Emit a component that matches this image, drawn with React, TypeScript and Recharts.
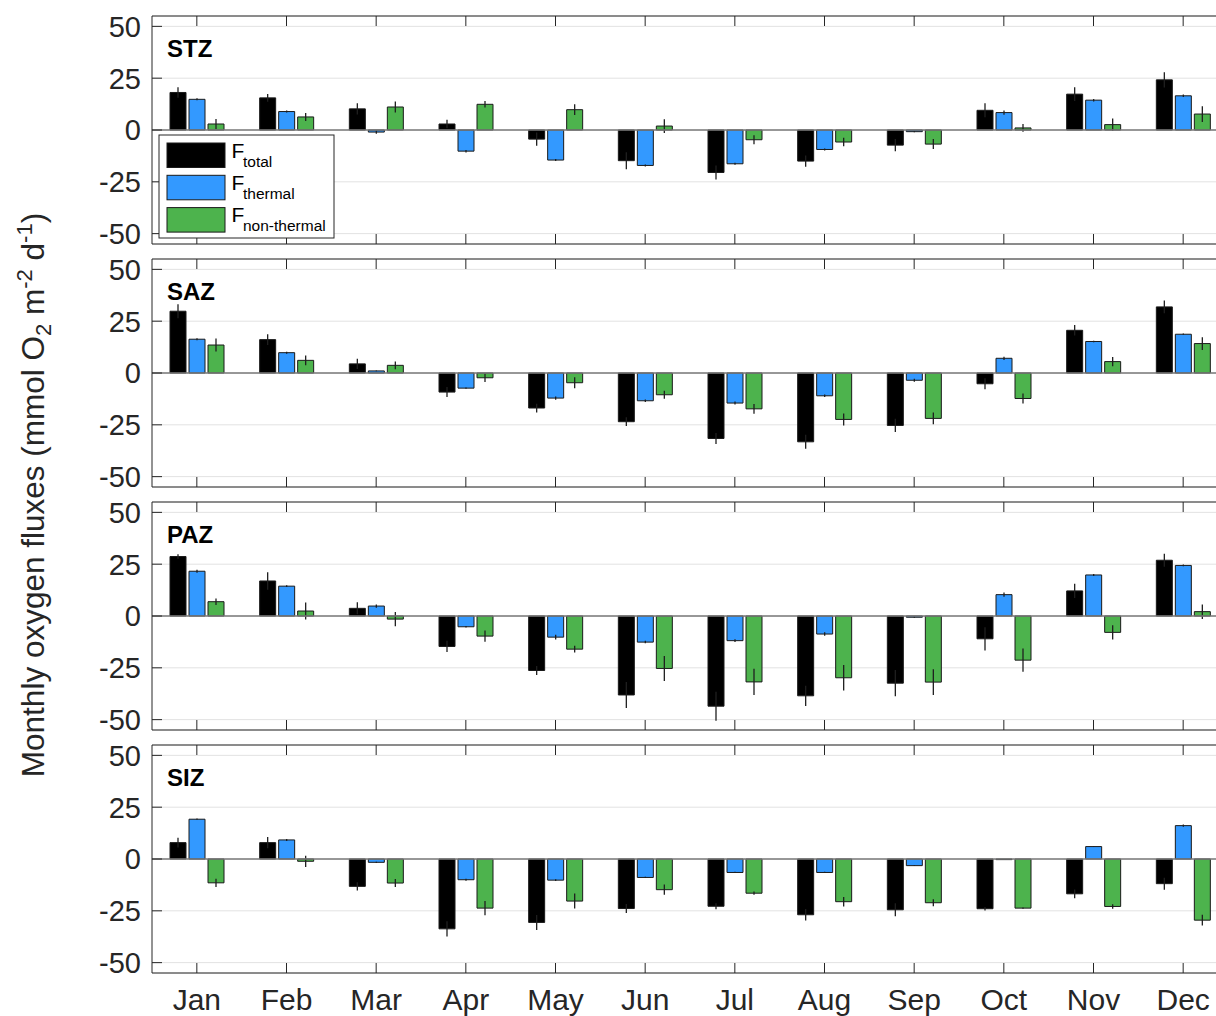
import React from 'react';
import { BarChart, Bar, XAxis, YAxis, CartesianGrid, ReferenceLine, ErrorBar } from 'recharts';

// ---------- data ----------
const months = ['Jan', 'Feb', 'Mar', 'Apr', 'May', 'Jun', 'Jul', 'Aug', 'Sep', 'Oct', 'Nov', 'Dec'];
const zoneNames = ['STZ', 'SAZ', 'PAZ', 'SIZ'];
const seriesKeys = ['total', 'thermal', 'nonThermal'];
const seriesLabels = ['total', 'thermal', 'non-thermal'];
const seriesColors = ['#000000', '#3399FF', '#4DB34D'];
const yTicks = [-50, -25, 0, 25, 50];
const yDomain = [-55, 55];

const stzTotal = [18.1, 15.5, 10.2, 2.9, -4.4, -14.8, -20.5, -15.0, -7.3, 9.5, 17.3, 24.2];
const stzTotalErr = [2.5, 1.9, 2.7, 2.1, 3.2, 4.1, 3.4, 2.7, 3.0, 3.4, 3.3, 3.7];
const stzThermal = [14.8, 8.9, -1.0, -10.2, -14.5, -17.1, -16.3, -9.4, -0.8, 8.4, 14.4, 16.5];
const stzThermalErr = [0.5, 0.5, 0.8, 0.6, 0.5, 0.5, 0.5, 0.5, 0.3, 1.0, 0.6, 0.6];
const stzNonThermal = [2.9, 6.3, 11.1, 12.4, 9.8, 1.9, -4.7, -5.8, -6.8, 1.0, 2.6, 7.7];
const stzNonThermalErr = [2.4, 1.9, 2.6, 1.6, 2.6, 3.3, 2.2, 2.1, 2.4, 1.9, 3.0, 3.8];

const sazTotal = [29.8, 16.1, 4.4, -9.2, -16.9, -23.5, -31.6, -33.2, -25.3, -5.2, 20.6, 31.9];
const sazTotalErr = [3.4, 2.6, 2.5, 2.4, 2.1, 2.1, 2.6, 3.4, 3.2, 2.7, 2.5, 3.1];
const sazThermal = [16.3, 9.8, 1.0, -7.3, -12.1, -13.4, -14.5, -11.0, -3.5, 7.1, 15.2, 18.7];
const sazThermalErr = [0.5, 0.5, 0.2, 0.3, 0.8, 0.6, 0.7, 0.6, 0.7, 0.8, 0.4, 0.3];
const sazNonThermal = [13.5, 6.1, 3.7, -2.3, -4.7, -10.5, -17.3, -22.4, -21.9, -12.3, 5.5, 14.2];
const sazNonThermalErr = [3.1, 2.4, 1.9, 2.1, 2.6, 1.9, 2.4, 2.9, 2.8, 2.4, 2.2, 3.1];

const pazTotal = [28.7, 16.9, 3.7, -14.7, -26.3, -38.1, -43.5, -38.5, -32.4, -11.0, 12.1, 26.9];
const pazTotalErr = [1.1, 4.2, 2.9, 2.7, 2.2, 6.3, 7.0, 4.9, 6.3, 5.6, 3.4, 3.1];
const pazThermal = [21.6, 14.4, 4.8, -5.2, -10.2, -12.6, -11.9, -8.7, -0.6, 10.3, 19.8, 24.4];
const pazThermalErr = [0.7, 0.4, 0.8, 0.4, 1.1, 0.6, 0.7, 0.8, 0.3, 1.0, 0.5, 0.4];
const pazNonThermal = [6.9, 2.4, -1.5, -9.7, -16.0, -25.3, -31.8, -29.8, -31.9, -21.3, -7.9, 2.1];
const pazNonThermalErr = [1.6, 4.1, 3.4, 2.7, 1.6, 6.0, 6.3, 6.2, 6.2, 5.6, 3.4, 3.5];

const sizTotal = [7.9, 7.9, -13.2, -33.7, -30.6, -23.9, -22.8, -26.9, -24.5, -24.0, -16.8, -11.9];
const sizTotalErr = [2.3, 2.7, 2.0, 3.7, 3.6, 2.2, 1.4, 2.8, 3.1, 0.8, 2.1, 2.9];
const sizThermal = [19.2, 9.2, -1.6, -10.0, -10.2, -8.9, -6.5, -6.5, -3.2, -0.3, 6.0, 16.1];
const sizThermalErr = [0.3, 0.5, 0.3, 0.5, 0.4, 0.3, 0.3, 0.3, 0.2, 0.1, 0.2, 0.5];
const sizNonThermal = [-11.5, -1.1, -11.6, -23.7, -20.3, -14.8, -16.5, -20.6, -21.1, -23.7, -22.9, -29.5];
const sizNonThermalErr = [2.0, 2.7, 1.9, 3.4, 3.6, 2.5, 0.8, 2.3, 1.7, 0.3, 1.1, 2.6];

const zoneSeries = [
  [stzTotal, stzTotalErr, stzThermal, stzThermalErr, stzNonThermal, stzNonThermalErr],
  [sazTotal, sazTotalErr, sazThermal, sazThermalErr, sazNonThermal, sazNonThermalErr],
  [pazTotal, pazTotalErr, pazThermal, pazThermalErr, pazNonThermal, pazNonThermalErr],
  [sizTotal, sizTotalErr, sizThermal, sizThermalErr, sizNonThermal, sizNonThermalErr],
];

const buildRows = (s: number[][]) =>
  months.map((m, i) => ({
    month: m,
    total: s[0][i],
    totalErr: s[1][i],
    thermal: s[2][i],
    thermalErr: s[3][i],
    nonThermal: s[4][i],
    nonThermalErr: s[5][i],
  }));

// ---------- styling ----------
const AXIS = '#262626';
const TEXT = '#262626';
const FONT = '"Liberation Sans", Arial, Helvetica, sans-serif';
const PLOT_LEFT = 152;
const PLOT_W = 1076;
const PLOT_H = 228;
const PANEL_STEP = 243;
const PANEL_TOP = 16;
const CHART_W = PLOT_LEFT + PLOT_W + 12;

const BottomTick = (props: any) => {
  const { x, y, payload, showLabel } = props;
  return (
    <g>
      <line x1={x} x2={x} y1={y} y2={y - 10} stroke={AXIS} strokeWidth={1} />
      {showLabel ? (
        <text x={x} y={y + 37} textAnchor="middle" fontSize={30} fill={TEXT}>
          {payload.value}
        </text>
      ) : null}
    </g>
  );
};

const TopTick = (props: any) => {
  const { x, y } = props;
  return <line x1={x} x2={x} y1={y} y2={y + 10} stroke={AXIS} strokeWidth={1} />;
};

const LeftTick = (props: any) => {
  const { x, y, payload } = props;
  return (
    <g>
      <line x1={x} x2={x + 10} y1={y} y2={y} stroke={AXIS} strokeWidth={1} />
      <text x={x - 11} y={y} dy="0.36em" textAnchor="end" fontSize={29} fill={TEXT}>
        {payload.value}
      </text>
    </g>
  );
};

const Panel = ({ index }: { index: number }) => {
  const last = index === zoneNames.length - 1;
  const height = last ? 1016 - PANEL_STEP * index : 250;
  const bottom = height - PANEL_TOP - PLOT_H;
  const rows = buildRows(zoneSeries[index]);
  return (
    <div style={{ position: 'absolute', left: 0, top: PANEL_STEP * index }}>
      <BarChart
        width={CHART_W}
        height={height}
        data={rows}
        margin={{ top: 0, right: 12, bottom: 0, left: PLOT_LEFT - 60 }}
        barGap={3}
      >
        <CartesianGrid vertical={false} stroke="#e2e2e2" strokeWidth={1} />
        <XAxis
          dataKey="month"
          height={bottom}
          interval={0}
          tickSize={0}
          tickMargin={0}
          tickLine={false}
          axisLine={{ stroke: AXIS, strokeWidth: 1 }}
          tick={(p: any) => <BottomTick {...p} showLabel={last} />}
        />
        <XAxis
          xAxisId="top"
          dataKey="month"
          orientation="top"
          height={PANEL_TOP}
          interval={0}
          tickSize={0}
          tickMargin={0}
          tickLine={false}
          axisLine={{ stroke: AXIS, strokeWidth: 1 }}
          tick={(p: any) => <TopTick {...p} />}
        />
        <YAxis
          width={60}
          domain={yDomain}
          ticks={yTicks}
          allowDataOverflow
          interval={0}
          tickSize={0}
          tickMargin={0}
          tickLine={false}
          axisLine={{ stroke: AXIS, strokeWidth: 1 }}
          tick={(p: any) => <LeftTick {...p} />}
        />
        {seriesKeys.map((k, si) => (
          <Bar
            key={k}
            dataKey={k}
            fill={seriesColors[si]}
            stroke="#1a1a1a"
            strokeWidth={1}
            barSize={16}
            isAnimationActive={false}
          >
            <ErrorBar dataKey={k + 'Err'} width={0} stroke="#1f1f1f" strokeWidth={1.3} direction="y" />
          </Bar>
        ))}
        <ReferenceLine y={0} stroke="#7a7a7a" strokeWidth={1.5} />
      </BarChart>
    </div>
  );
};

const Overlay = () => {
  const lx = 159;
  const ly = 135;
  return (
    <svg
      width={1216}
      height={1016}
      style={{ position: 'absolute', left: 0, top: 0, pointerEvents: 'none' }}
    >
      <text
        transform="translate(44,495) rotate(-90)"
        textAnchor="middle"
        fontSize={31.5}
        fill={TEXT}
      >
        Monthly oxygen fluxes (mmol O
        <tspan fontSize={22} dy={7}>2</tspan>
        <tspan dy={-7}> m</tspan>
        <tspan fontSize={22} dy={-12}>-2</tspan>
        <tspan dy={12}> d</tspan>
        <tspan fontSize={22} dy={-12}>-1</tspan>
        <tspan dy={12}>)</tspan>
      </text>
      {zoneNames.map((z, i) => (
        <text
          key={z}
          x={167}
          y={PANEL_TOP + PANEL_STEP * i + 41}
          fontSize={24}
          fontWeight="bold"
          fill="#000"
        >
          {z}
        </text>
      ))}
      <rect x={lx} y={ly} width={175} height={103} fill="#fff" stroke="#262626" strokeWidth={1} />
      {seriesLabels.map((s, i) => (
        <g key={s}>
          <rect
            x={lx + 8}
            y={ly + 8 + i * 32.3}
            width={58}
            height={24.5}
            fill={seriesColors[i]}
            stroke="#1a1a1a"
            strokeWidth={1}
          />
          <text x={lx + 72.5} y={ly + 22.5 + i * 32.3} fontSize={21} fill="#000">
            F
          </text>
          <text x={lx + 84} y={ly + 31.5 + i * 32.3} fontSize={15.5} fill="#000">
            {s}
          </text>
        </g>
      ))}
    </svg>
  );
};

export default function App() {
  return (
    <div
      style={{
        position: 'absolute',
        left: 0,
        top: 0,
        width: 1216,
        height: 1016,
        overflow: 'hidden',
        background: '#fff',
        fontFamily: FONT,
      }}
    >
      {zoneNames.map((z, i) => (
        <Panel key={z} index={i} />
      ))}
      <Overlay />
    </div>
  );
}
